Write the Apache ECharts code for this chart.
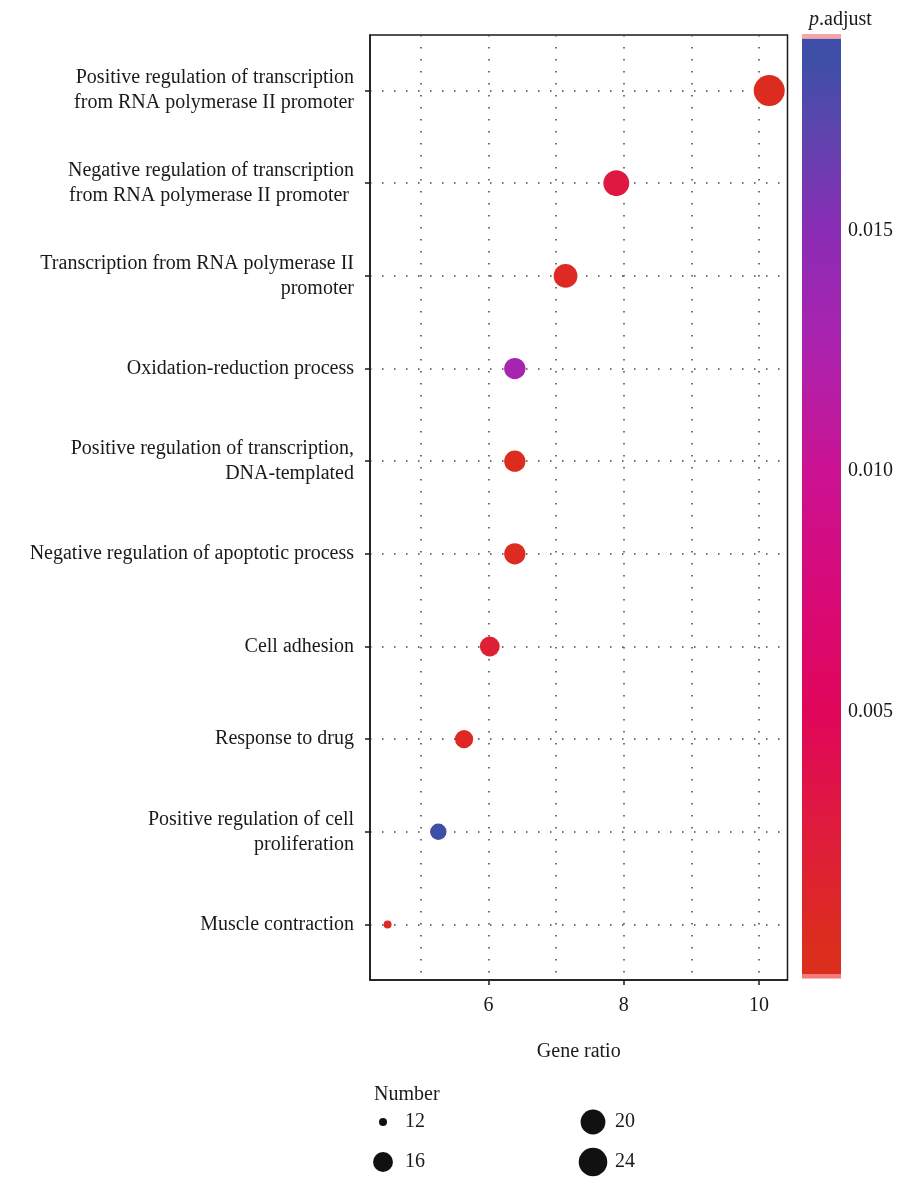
<!DOCTYPE html>
<html><head><meta charset="utf-8">
<script src="https://cdn.jsdelivr.net/npm/echarts@6/dist/echarts.min.js"></script>
<style>html,body{margin:0;padding:0;background:#fff}#c{width:898px;height:1183px}</style>
</head><body><div id="c"></div>
<script>
const categories = [
  "Positive regulation of transcription\nfrom RNA polymerase II promoter",
  "Negative regulation of transcription\nfrom RNA polymerase II promoter ",
  "Transcription from RNA polymerase II\npromoter",
  "Oxidation-reduction process",
  "Positive regulation of transcription,\nDNA-templated",
  "Negative regulation of apoptotic process",
  "Cell adhesion",
  "Response to drug",
  "Positive regulation of cell\nproliferation",
  "Muscle contraction"
];
const geneRatio = [10.15, 7.89, 7.14, 6.39, 6.39, 6.39, 6.02, 5.64, 5.26, 4.51];
const counts    = [27, 21, 19, 17, 17, 17, 16, 15, 14, 12];
const pAdjust   = [0.0003, 0.003, 0.0005, 0.013, 0.0003, 0.0004, 0.002, 0.0008, 0.0185, 0.0005];
const xTickValues = [6, 8, 10];
const xGridValues = [5, 6, 7, 8, 9, 10];
const colorbarTicks = [0.005, 0.010, 0.015];
const colorbarRange = [-0.00046, 0.0190];
const sizeLegendValues = [12, 16, 20, 24];
const colorStopValues = [0, 0.0025, 0.005, 0.0075, 0.010, 0.0125, 0.015, 0.017, 0.0185];
const colorStopColors = ['#dc2e1c', '#df1c3c', '#e0065a', '#d80a78', '#cb1292', '#ad22ad', '#8a2cb5', '#5f44ad', '#3f4fa8'];

const FONT = "'Liberation Serif', 'DejaVu Serif', serif";
const TXT = '#1a1a1a';
const FS = 20;

function hexToRgb(h){ return [1,3,5].map(i => parseInt(h.slice(i, i+2), 16)); }
function colorFor(p){
  const v = colorStopValues, c = colorStopColors;
  if (p <= v[0]) return c[0];
  if (p >= v[v.length-1]) return c[c.length-1];
  for (let i = 0; i < v.length-1; i++) {
    if (p <= v[i+1]) {
      const t = (p - v[i]) / (v[i+1] - v[i]);
      const a = hexToRgb(c[i]), b = hexToRgb(c[i+1]);
      return 'rgb(' + a.map((x,k) => Math.round(x + (b[k]-x)*t)).join(',') + ')';
    }
  }
}
const nMin = Math.min(...counts), nMax = Math.max(...counts);
function sizeFor(n){ return 8 + 23 * Math.sqrt(Math.max(0, (n - nMin) / (nMax - nMin))); }

const nCat = categories.length;
const yTickValues = categories.map((_, i) => i + 1);
const mainData = categories.map((c, i) => [geneRatio[i], nCat - i, counts[i], pAdjust[i]]);

const cbMin = colorbarRange[0], cbMax = colorbarRange[1];
const gradStops = colorStopValues.map((v, i) => ({
  offset: Math.min(1, Math.max(0, (cbMax - v) / (cbMax - cbMin))),
  color: colorStopColors[i]
})).reverse();

const legendData = sizeLegendValues.map((v, i) => [Math.floor(i / 2), i % 2, v]);

const gridLineStyle = { color: '#444', width: 1.5, type: [1.5, 10.5] };

const option = {
  animation: false,
  backgroundColor: '#fff',
  textStyle: { fontFamily: FONT },
  title: [
    { text: '{i|p}.adjust', left: 804, top: 5,
      textStyle: { fontFamily: FONT, fontSize: FS, fontWeight: 'normal', color: TXT,
        rich: { i: { fontFamily: FONT, fontSize: FS, fontStyle: 'italic', color: TXT } } } },
    { text: 'Number', left: 369, top: 1080,
      textStyle: { fontFamily: FONT, fontSize: FS, fontWeight: 'normal', color: TXT } }
  ],
  grid: [
    { left: 370, top: 35, width: 417.5, height: 945, show: true, borderColor: '#1a1a1a', borderWidth: 1.5, backgroundColor: 'transparent' },
    { left: 802, top: 38.5, width: 39, height: 935.5 },
    { left: 278, top: 1102, width: 420, height: 80 }
  ],
  xAxis: [
    { gridIndex: 0, type: 'value', min: 4.25, max: 10.42,
      name: 'Gene ratio', nameLocation: 'middle', nameGap: 62,
      nameTextStyle: { fontFamily: FONT, fontSize: FS, color: TXT },
      axisLine: { show: true, lineStyle: { color: '#1a1a1a', width: 1.5 } },
      axisTick: { show: true, length: 5, customValues: xTickValues, lineStyle: { color: '#1a1a1a', width: 1.5 } },
      axisLabel: { customValues: xTickValues, margin: 16, fontFamily: FONT, fontSize: FS, color: TXT },
      splitLine: { show: false } },
    { gridIndex: 0, type: 'value', min: 4.25, max: 10.42, position: 'top',
      axisLine: { show: false }, axisLabel: { show: false },
      axisTick: { show: false, customValues: xGridValues },
      splitLine: { show: true, lineStyle: gridLineStyle } },
    { gridIndex: 1, type: 'category', data: ['bar'], show: false },
    { gridIndex: 2, type: 'category', data: ['c0', 'c1'], show: false }
  ],
  yAxis: [
    { gridIndex: 0, type: 'value', min: 0.4, max: nCat + 0.6,
      axisLine: { show: true, lineStyle: { color: '#1a1a1a', width: 1.5 } },
      axisTick: { show: true, length: 5, customValues: yTickValues, lineStyle: { color: '#1a1a1a', width: 1.5 } },
      axisLabel: { customValues: yTickValues, margin: 16, fontFamily: FONT, fontSize: FS, color: TXT, lineHeight: 25, align: 'right',
        formatter: v => categories[nCat - v] },
      splitLine: { show: true, lineStyle: gridLineStyle } },
    { gridIndex: 1, type: 'value', min: cbMin, max: cbMax, position: 'right',
      axisLine: { show: false }, splitLine: { show: false },
      axisTick: { show: true, inside: true, length: 7, customValues: colorbarTicks, lineStyle: { color: 'rgba(255,255,255,0.65)', width: 2.5 } },
      axisLabel: { customValues: colorbarTicks, margin: 7, fontFamily: FONT, fontSize: FS, color: TXT, formatter: v => v.toFixed(3) } },
    { gridIndex: 1, type: 'value', min: cbMin, max: cbMax, position: 'left',
      axisLine: { show: false }, splitLine: { show: false }, axisLabel: { show: false },
      axisTick: { show: true, inside: true, length: 7, customValues: colorbarTicks, lineStyle: { color: 'rgba(255,255,255,0.65)', width: 2.5 } } },
    { gridIndex: 2, type: 'category', data: ['r0', 'r1'], inverse: true, show: false }
  ],
  series: [
    { type: 'scatter', xAxisIndex: 0, yAxisIndex: 0, z: 5,
      data: mainData,
      symbolSize: d => sizeFor(d[2]),
      itemStyle: { opacity: 1, color: p => colorFor(p.data[3]) } },
    { type: 'custom', xAxisIndex: 2, yAxisIndex: 1, z: 1,
      data: [[0, cbMin, cbMax]],
      renderItem: (params, api) => {
        const top = api.coord([0, api.value(2)]);
        const bot = api.coord([0, api.value(1)]);
        const w = api.size([1, 0])[0];
        const x = top[0] - w / 2;
        return { type: 'group', children: [
          { type: 'rect', shape: { x: x, y: top[1], width: w, height: bot[1] - top[1] },
            style: { fill: new echarts.graphic.LinearGradient(0, 0, 0, 1, gradStops) } },
          { type: 'rect', shape: { x: x, y: top[1] - 4.5, width: w, height: 4.5 }, style: { fill: '#f7a5a8' } },
          { type: 'rect', shape: { x: x, y: bot[1], width: w, height: 4.5 }, style: { fill: '#f37b78' } }
        ] };
      } },
    { type: 'scatter', xAxisIndex: 3, yAxisIndex: 3,
      data: legendData,
      symbolSize: d => sizeFor(d[2]),
      itemStyle: { color: '#111', opacity: 1 },
      label: { show: true, position: 'inside', align: 'left', offset: [22, 0], color: TXT,
        fontFamily: FONT, fontSize: FS, formatter: p => String(p.data[2]) } }
  ]
};
const chart = echarts.init(document.getElementById('c'), null, { renderer: 'canvas' });
chart.setOption(option);
</script>
</body></html>
